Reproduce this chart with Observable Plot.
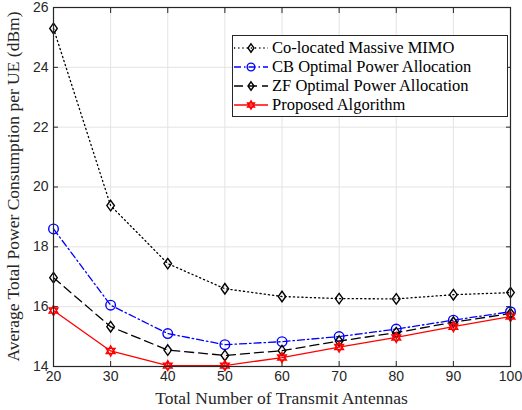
<!DOCTYPE html>
<html><head><meta charset="utf-8">
<script src="https://cdn.jsdelivr.net/npm/d3@7"></script>
<script src="https://cdn.jsdelivr.net/npm/@observablehq/plot@0.6"></script>
<style>
body{margin:0;background:#fff;}
#wrap{position:relative;width:522px;height:410px;}
#legend{position:absolute;left:232px;top:35px;width:276px;height:82px;border:1px solid #262626;background:#fff;font-family:"Liberation Serif",serif;font-size:16.5px;color:#000;box-sizing:border-box;padding-top:2px}
#legend .row{display:flex;align-items:center;height:19px;}
#legend svg{flex:none;margin-left:0px;margin-right:3px}
</style></head>
<body><div id="wrap"></div>
<script>
const antennas = [20,30,40,50,60,70,80,90,100];
const colocated = [25.3,19.38,17.44,16.6,16.34,16.27,16.26,16.4,16.47];
const cbOpt = [18.6,16.05,15.1,14.73,14.83,15.0,15.25,15.55,15.83];
const zfOpt = [16.97,15.33,14.55,14.37,14.53,14.85,15.13,15.48,15.77];
const proposed = [15.87,14.52,14.03,14.03,14.3,14.65,14.97,15.33,15.67];
const seriesNames = ["Co-located Massive MIMO","CB Optimal Power Allocation","ZF Optimal Power Allocation","Proposed Algorithm"];
const xTicks = [20,30,40,50,60,70,80,90,100];
const yTicks = [14,16,18,20,22,24,26];

const diamondTall = {draw(ctx, size){const r=Math.sqrt(size/Math.PI)*1.25;const w=r*0.72;ctx.moveTo(0,-r);ctx.lineTo(w,0);ctx.lineTo(0,r);ctx.lineTo(-w,0);ctx.closePath();}};
const hexagram = {draw(ctx,size){const r=Math.sqrt(size/Math.PI)*1.2;for(const off of [-90,90]){for(let k=0;k<3;k++){const a=(off+k*120)*Math.PI/180;const x=r*Math.cos(a),y=r*Math.sin(a);if(k===0)ctx.moveTo(x,y);else ctx.lineTo(x,y);}ctx.closePath();}}};

const styles = [
 {data:colocated,color:"#000",dash:"1.2,3",sym:diamondTall,r:4.2},
 {data:cbOpt,color:"#0000ff",dash:"7,3,1.5,3",sym:"circle",r:4.8},
 {data:zfOpt,color:"#000",dash:"9,5",sym:diamondTall,r:4.2},
 {data:proposed,color:"#ff0000",dash:null,sym:hexagram,r:4.2}
];

const rows = [];
styles.forEach((s,i)=>antennas.forEach((a,j)=>rows.push({series:seriesNames[i],idx:i,x:a,y:s.data[j]})));

const marks = [
  Plot.gridX(xTicks,{stroke:"#e3e3e3",strokeOpacity:1}),
  Plot.gridY(yTicks,{stroke:"#e3e3e3",strokeOpacity:1}),
  Plot.axisX(xTicks,{anchor:"bottom",tickSize:-5,tickPadding:10,fontSize:14,fill:"#262626",stroke:"#262626",label:null,fontFamily:"Liberation Sans, Arial, sans-serif"}),
  Plot.axisX(xTicks,{anchor:"top",tickSize:-5,tickFormat:()=>"",stroke:"#262626",label:null}),
  Plot.axisY(yTicks,{anchor:"left",tickSize:-5,tickPadding:10,fontSize:14,fill:"#262626",stroke:"#262626",label:null,fontFamily:"Liberation Sans, Arial, sans-serif"}),
  Plot.axisY(yTicks,{anchor:"right",tickSize:-5,tickFormat:()=>"",stroke:"#262626",label:null}),
];
styles.forEach((s,i)=>{
  const d = rows.filter(r=>r.idx===i);
  marks.push(Plot.line(d,{x:"x",y:"y",stroke:s.color,strokeWidth:1.3,strokeDasharray:s.dash}));
  marks.push(Plot.dot(d,{x:"x",y:"y",stroke:s.color,fill:"none",strokeWidth:1.4,symbol:()=>s.sym,r:s.r}));
});
marks.push(Plot.frame({stroke:"#262626",strokeWidth:1.2}));

const chart = Plot.plot({
  width:522,height:410,
  marginLeft:53,marginRight:12,marginTop:7,marginBottom:44,
  x:{domain:[20,100]},
  y:{domain:[14,26]},
  symbol:{type:"identity"},
  style:{background:"#fff",overflow:"visible"},
  marks
});
const wrap = document.getElementById("wrap");
wrap.appendChild(chart);

// axis titles
const svg = d3.select(chart);
svg.append("text").attr("x",53+(522-53-12)/2).attr("y",404).attr("text-anchor","middle")
  .attr("font-family","Liberation Serif, serif").attr("font-size",17.5).attr("fill","#262626")
  .text("Total Number of Transmit Antennas");
svg.append("text").attr("transform",`translate(19,${7+(410-7-44)/2}) rotate(-90)`).attr("text-anchor","middle")
  .attr("font-family","Liberation Serif, serif").attr("font-size",17.5).attr("fill","#262626")
  .text("Average Total Power Consumption per UE (dBm)");

// legend
const leg = document.createElement("div"); leg.id="legend";
styles.forEach((s,i)=>{
  const row=document.createElement("div");row.className="row";
  const sv=d3.create("svg").attr("width",36).attr("height",16);
  sv.append("line").attr("x1",1).attr("x2",35).attr("y1",8).attr("y2",8).attr("stroke",s.color).attr("stroke-width",1.3).attr("stroke-dasharray",s.dash);
  const sym = typeof s.sym==="string"?d3.symbolCircle:s.sym;
  const rr = s.r*0.8;
  sv.append("path").attr("transform","translate(18,8)").attr("d",d3.symbol(sym,rr*rr*Math.PI)()).attr("fill","none").attr("stroke",s.color).attr("stroke-width",1.4);
  row.appendChild(sv.node());
  const t=document.createElement("span");t.textContent=seriesNames[i];row.appendChild(t);
  leg.appendChild(row);
});
wrap.appendChild(leg);
</script></body></html>
